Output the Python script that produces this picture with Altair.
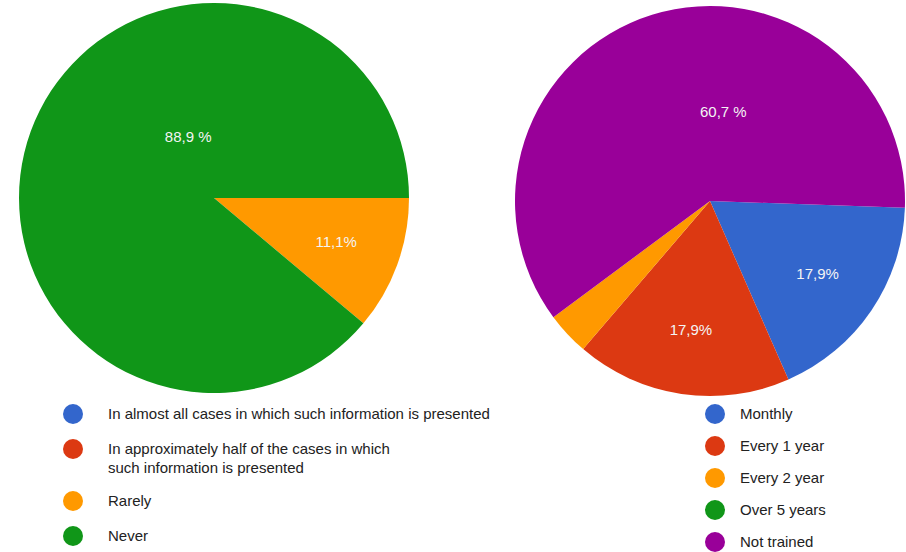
import math
import altair as alt
import pandas as pd

# ---- data ----
left_categories = [
    "In almost all cases in which such information is presented",
    "In approximately half of the cases in which such information is presented",
    "Rarely",
    "Never",
]
left_counts = [0, 0, 1, 8]
left_labels = ["", "", "11,1%", "88,9 %"]
left_colors = ["#3366cc", "#dc3912", "#ff9900", "#109618"]

right_categories = ["Monthly", "Every 1 year", "Every 2 year", "Over 5 years", "Not trained"]
right_counts = [5, 5, 1, 0, 17]
right_labels = ["17,9%", "17,9%", "", "", "60,7 %"]
right_colors = ["#3366cc", "#dc3912", "#ff9900", "#109618", "#990099"]

FONT = "Liberation Sans"


def make_df(cats, counts, labels):
    total = sum(counts)
    rows = []
    for i, (c, n, l) in enumerate(zip(cats, counts, labels)):
        share = n / total
        rows.append({
            "idx": i, "cat": c, "count": n,
            "small": l if share < 0.5 else "",
            "big": l if share >= 0.5 else "",
        })
    return pd.DataFrame(rows)


def pie(df, domain, colors, cx, cy, r, start, legend_x, legend_y, label_offset,
        row_padding, big_offset, big_radius, label_expr=None):
    theta = alt.Theta("count:Q", stack=True,
                      scale=alt.Scale(range=[start, start + 2 * math.pi]))
    base = alt.Chart(df).encode(
        theta=theta,
        order=alt.Order("idx:Q"),
        x=alt.value(cx),
        y=alt.value(cy),
    )
    legend_kw = dict(
        title=None, orient="none", legendX=legend_x, legendY=legend_y,
        direction="vertical", symbolType="circle", symbolSize=400,
        symbolStrokeWidth=0, symbolOpacity=1, labelFontSize=15, labelFont=FONT,
        labelColor="#222222", labelOffset=label_offset, rowPadding=row_padding,
        labelLimit=700, padding=0,
    )
    if label_expr:
        legend_kw["labelExpr"] = label_expr
    arcs = base.mark_arc(radius=r).encode(
        color=alt.Color("cat:N", sort=domain,
                        scale=alt.Scale(domain=domain, range=colors),
                        legend=alt.Legend(**legend_kw))
    )
    small = base.mark_text(radius=130, color="#f4f4f4", fontSize=15, font=FONT).encode(
        text="small:N")
    big = base.mark_text(radius=big_radius, thetaOffset=big_offset, color="#f4f4f4",
                         fontSize=15, font=FONT).encode(text="big:N")
    return alt.layer(arcs, small, big)


left_df = make_df(left_categories, left_counts, left_labels)
right_df = make_df(right_categories, right_counts, right_labels)

split_expr = (
    "datum.label == 'In approximately half of the cases in which such information is presented'"
    " ? ['In approximately half of the cases in which', 'such information is presented']"
    " : datum.label"
)

left = pie(left_df, left_categories, left_colors, 214, 198, 195, math.pi / 2,
           63, 404, 25, 15, 0.82, 66, split_expr)
right = pie(right_df, right_categories, right_colors, 710, 201, 195, math.pi / 2 + 0.035,
            705, 404, 15, 12, 0.45, 90)

chart = alt.layer(left, right).resolve_scale(
    color="independent", theta="independent"
).properties(
    width=906, height=552, padding=0, autosize="none", background="white"
).configure(
    style={"guide-label": {"lineHeight": 19}}
).configure_view(stroke=None)

chart.save("out.html", embed_options={"renderer": "svg", "actions": False})
